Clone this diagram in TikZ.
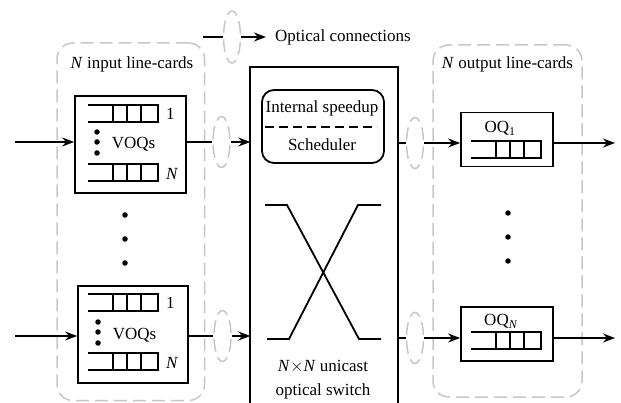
\documentclass[tikz,border=0pt]{standalone}
\usepackage{fontspec}
\setmainfont{Liberation Serif}
\usetikzlibrary{arrows.meta,shapes.geometric}
\tikzset{
  txt/.style={font=\fontsize{17}{20}\selectfont, inner sep=0pt},
  ln/.style={line width=1.8pt},
  arr/.style={line width=1.8pt,-{Stealth[length=12pt,width=9pt,inset=4pt]}},
  grp/.style={draw=black!22, line width=1.5pt, dash pattern=on 13pt off 6pt,
    rounded corners=16pt, inner sep=0pt},
  fiber/.style={ellipse, draw=black!22, line width=1.5pt,
    dash pattern=on 12.9pt off 6pt, dash phase=15.9pt,
    minimum width=17pt, minimum height=51pt, inner sep=0pt},
  card/.style={draw, line width=1.8pt, inner sep=0pt},
  dot/.style={circle, fill, inner sep=0pt, minimum size=5.5pt},
  queue/.pic={
    \draw[line width=1.7pt] (0,0) -- (70,0) -- (70,17) -- (0,17);
    \foreach \x in {25,39,53} \draw[line width=1.7pt] (\x,0) -- (\x,17);
  }
}
\begin{document}
\begin{tikzpicture}[x=1pt,y=-1pt]
\useasboundingbox (0,0) rectangle (621,403);

% legend
\coordinate (lg0) at (203,37);
\node[fiber, minimum height=52pt] (lgf) at (232,37) {};
\coordinate (lg1) at (266,37);
\draw[ln] (lg0) -- (lgf.west);
\draw[arr] (lgf.east) -- (lg1);
\node[txt, anchor=base west] (lgtxt) at (275,42) {Optical connections};

% line-card groups
\node[grp, minimum width=147.5pt, minimum height=357.5pt] (ingrp) at (130.75,221.75) {};
\node[grp, minimum width=149pt, minimum height=352pt] (outgrp) at (507.5,221) {};
\node[txt, anchor=base] (inlbl) at (132,68.5) {\textit{N} input line-cards};
\node[txt, anchor=base] (outlbl) at (507.5,68.5) {\textit{N} output line-cards};

% input line-cards with VOQs
\node[card, minimum width=111pt, minimum height=97pt] (box1) at (130.5,144.5) {};
\node[card, minimum width=110pt, minimum height=97pt] (box2) at (133,334.5) {};
\pic at (88,105) {queue};
\pic at (88,164) {queue};
\pic at (88,294) {queue};
\pic at (88,353) {queue};
\node[txt, anchor=base west] (b1one) at (166,120) {1};
\node[txt, anchor=base west] (b1n) at (166,179.3) {\textit{N}};
\node[txt, anchor=base west] (b2one) at (166,308.3) {1};
\node[txt, anchor=base west] (b2n) at (166,368.3) {\textit{N}};
\node[txt, anchor=base] (voq1) at (133.5,148.3) {VOQs};
\node[txt, anchor=base] (voq2) at (134.5,339.3) {VOQs};
\foreach \y [count=\i] in {132,142,153} \node[dot] (da\i) at (97,\y) {};
\foreach \y [count=\i] in {322,332,343} \node[dot] (db\i) at (98,\y) {};
\foreach \y [count=\i] in {215,239,263} \node[dot] (dc\i) at (125,\y) {};
\foreach \y [count=\i] in {213,237,261} \node[dot] (dd\i) at (508,\y) {};

% switch fabric
\node[minimum width=147pt, minimum height=346pt, inner sep=0pt] (sw) at (324,240) {};
\draw[ln] (sw.south west) -- (sw.north west) -- (sw.north east) -- (sw.south east);
\node[card, rounded corners=12pt, minimum width=122pt, minimum height=73pt] (sched) at (323,126.5) {};
\node[txt, anchor=base] (spd) at (322,112.7) {Internal speedup};
\node[txt, anchor=base] (schtxt) at (322,151) {Scheduler};
\draw[line width=1.6pt, dash pattern=on 8.5pt off 5.5pt] (265,127) -- (377,127);
\draw[ln] (265,205) -- (287,205) -- (359,339) -- (381,339);
\draw[ln] (381,205) -- (358,205) -- (289,339) -- (267,339);
\node[txt, anchor=base] (swl1) at (323,371.7) {\textit{N}$\times$\textit{N} unicast};
\node[txt, anchor=base] (swl2) at (323,395.7) {optical switch};

% output line-cards
\node[card, minimum width=92pt, minimum height=54pt] (oq1) at (507,139.5) {};
\node[card, minimum width=92pt, minimum height=54pt] (oqn) at (507,334) {};
\pic at (471,141) {queue};
\pic at (471,332) {queue};
\node[txt, anchor=base] (oq1l) at (500,132.7) {OQ\textsubscript{1}};
\node[txt, anchor=base] (oqnl) at (501,326) {OQ\textsubscript{\textit{N}}};

% optical connections
\node[fiber] (e1) at (221.5,142) {};
\node[fiber] (e2) at (222.5,336) {};
\node[fiber] (e3) at (415,143) {};
\node[fiber] (e4) at (415,338) {};

% links
\coordinate (src1) at (15,142);
\coordinate (src2) at (15,336);
\coordinate (dst1) at (615,143);
\coordinate (dst2) at (615,338);
\draw[arr] (src1) -- (src1 -| box1.west);
\draw[arr] (src2) -- (src2 -| box2.west);
\draw[ln] (box1.east |- e1) -- (e1.west);
\draw[ln] (box2.east |- e2) -- (e2.west);
\draw[arr] (e1.east) -- (e1.east -| sw.west);
\draw[arr] (e2.east) -- (e2.east -| sw.west);
\draw[ln] (sw.east |- e3) -- (e3.west);
\draw[ln] (sw.east |- e4) -- (e4.west);
\draw[arr] (e3.east) -- (e3.east -| oq1.west);
\draw[arr] (e4.east) -- (e4.east -| oqn.west);
\draw[arr] (oq1.east |- dst1) -- (dst1);
\draw[arr] (oqn.east |- dst2) -- (dst2);
\end{tikzpicture}
\end{document}
